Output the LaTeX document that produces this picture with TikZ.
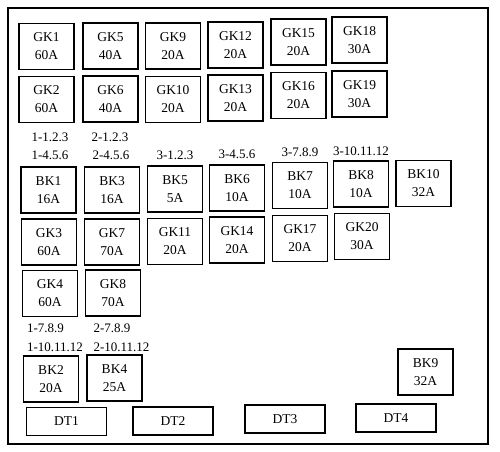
\documentclass[tikz,border=0pt]{standalone}
\usepackage{fontspec}
\setmainfont{Liberation Serif}
\usepackage{tikz}
\usetikzlibrary{positioning}

\begin{document}
\begin{tikzpicture}[x=1pt, y=-1pt,
  fuse/.style={draw, line width=1.1pt, minimum width=55pt, minimum height=46pt, inner sep=0pt, align=center, font=\fontsize{13.5}{18}\selectfont},
  dtbox/.style={draw, line width=1.1pt, minimum width=80pt, minimum height=28pt, inner sep=0pt, font=\fontsize{13.5}{16}\selectfont},
  pinlbl/.style={inner sep=0pt, font=\fontsize{13}{15}\selectfont}]
\useasboundingbox (0,0) rectangle (500,451);
\draw[line width=1.2pt] (8,8) rectangle (488,444);
% row 1
\node[fuse] (gk1) at (46.5,46.5) {GK1\\60A};
\node[fuse] (gk5) at (110.5,46) {GK5\\40A};
\node[fuse] (gk9) at (173,46) {GK9\\20A};
\node[fuse] (gk12) at (235.5,45) {GK12\\20A};
\node[fuse] (gk15) at (298.5,42) {GK15\\20A};
\node[fuse] (gk18) at (359.5,40) {GK18\\30A};
% row 2
\node[fuse] (gk2) at (46.5,99.5) {GK2\\60A};
\node[fuse] (gk6) at (110.5,99) {GK6\\40A};
\node[fuse] (gk10) at (173,99.5) {GK10\\20A};
\node[fuse] (gk13) at (235.5,98) {GK13\\20A};
\node[fuse] (gk16) at (298.5,95.5) {GK16\\20A};
\node[fuse] (gk19) at (359.5,94) {GK19\\30A};
% pin labels above the breakers
\node[pinlbl] (l11) at (50,137) {1-1.2.3};
\node[pinlbl] (l21) at (110,137) {2-1.2.3};
\node[pinlbl] (l14) at (50,155) {1-4.5.6};
\node[pinlbl] (l24) at (111,155) {2-4.5.6};
\node[pinlbl] (l31) at (175,155) {3-1.2.3};
\node[pinlbl] (l34) at (237,154) {3-4.5.6};
\node[pinlbl] (l37) at (300,152) {3-7.8.9};
\node[pinlbl] (l310) at (361,151) {3-10.11.12};
% row 3
\node[fuse] (bk1) at (48.5,190) {BK1\\16A};
\node[fuse] (bk3) at (112,190) {BK3\\16A};
\node[fuse] (bk5) at (175,189) {BK5\\5A};
\node[fuse] (bk6) at (237,188) {BK6\\10A};
\node[fuse] (bk7) at (300,185.5) {BK7\\10A};
\node[fuse] (bk8) at (361,184) {BK8\\10A};
\node[fuse] (bk10) at (423.5,183.5) {BK10\\32A};
% row 4
\node[fuse] (gk3) at (49,242) {GK3\\60A};
\node[fuse] (gk7) at (112,242) {GK7\\70A};
\node[fuse] (gk11) at (175,241.5) {GK11\\20A};
\node[fuse] (gk14) at (237,240) {GK14\\20A};
\node[fuse] (gk17) at (300,238.5) {GK17\\20A};
\node[fuse] (gk20) at (362,236.5) {GK20\\30A};
% row 5
\node[fuse] (gk4) at (50,293.5) {GK4\\60A};
\node[fuse] (gk8) at (113,293) {GK8\\70A};
\node[pinlbl] (l17) at (45.5,328) {1-7.8.9};
\node[pinlbl] (l27) at (112,328) {2-7.8.9};
\node[pinlbl] (l110) at (55,347) {1-10.11.12};
\node[pinlbl] (l210) at (121.5,347) {2-10.11.12};
% row 6
\node[fuse] (bk2) at (51,379) {BK2\\20A};
\node[fuse] (bk4) at (114.5,378) {BK4\\25A};
\node[fuse] (bk9) at (425.5,372) {BK9\\32A};
% terminals
\node[dtbox] (dt1) at (66.5,421.5) {DT1};
\node[dtbox] (dt2) at (173,421) {DT2};
\node[dtbox] (dt3) at (285,419) {DT3};
\node[dtbox] (dt4) at (396,418) {DT4};
\end{tikzpicture}
\end{document}
